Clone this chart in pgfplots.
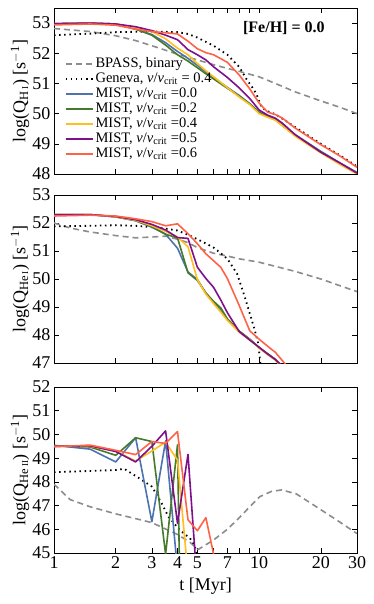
\documentclass[border=0pt]{standalone}
\usepackage{fontspec}
\setmainfont{Liberation Serif}
\usepackage{pgfplots}
\pgfplotsset{compat=1.18}

\definecolor{mistA}{HTML}{4C72B0}
\definecolor{mistB}{HTML}{467A2B}
\definecolor{mistC}{HTML}{FFBF1F}
\definecolor{mistD}{HTML}{7F108C}
\definecolor{mistE}{HTML}{FF6347}
\definecolor{bpass}{HTML}{8C8C8C}

\newcommand{\subion}[2]{\textsubscript{\fontsize{12.5}{12.5}\selectfont #1\,{\fontsize{9}{9}\selectfont #2}}}
\newcommand{\vcrit}{\textit{v}/\textit{v}\textsubscript{crit}}

\pgfplotsset{
  qpanel/.style={
    scale only axis, width=303pt,
    xmin=1, xmax=30,
    xtick={1,2,3,4,5,6,7,8,9,10,20,30},
    xminorticks=false, yminorticks=false,
    tick align=inside, xtick pos=both, ytick pos=both,
    major tick length=5pt,
    tick style={black, line width=0.6pt},
    axis line style={line width=0.8pt},
    /pgf/number format/assume math mode=true,
    tick label style={font=\fontsize{18}{18}\selectfont},
    label style={font=\fontsize{18}{20}\selectfont},
    ylabel style={at={(rel axis cs:-0.112,0.5)}, anchor=center},
    every axis plot/.append style={line width=1.6pt, line join=round},
  },
  bp/.style={bpass, dash pattern=on 6pt off 4pt},
  gv/.style={black, line width=1.8pt, dash pattern=on 1.5pt off 3.6pt},
}

\begin{document}
\begin{tikzpicture}
\path (-54pt,8pt) rectangle (320pt,-596pt);

% ---- H I ----
\begin{axis}[xmode=log, qpanel, at={(0pt,0pt)}, anchor=north west, height=166pt,
    ymin=48, ymax=53.5, ytick={48,49,50,51,52,53},
    xticklabels={},
    ylabel={log(Q\subion{H}{I}) [s\textsuperscript{$-$1}]},
    legend style={at={(rel axis cs:0.025,0.72)}, anchor=north west,
      draw=none, fill=none, font=\fontsize{14.5}{15}\selectfont,
      nodes={text height=10pt, text depth=3pt, inner ysep=1pt}},
    legend cell align=left,
    legend image code/.code={\draw[#1] (0pt,0pt) -- (27pt,0pt);},
]
\addplot[bp] coordinates {(1,52.82) (1.5,52.72) (2,52.58) (2.5,52.42) (3,52.25) (4,51.97) (5,51.78) (6,51.62) (7,51.5) (8,51.4) (10,51.22) (12,51.0) (15,50.72) (20,50.42) (25,50.2) (30,50.0)};
\addlegendentry{BPASS, binary}
\addplot[gv] coordinates {(1,52.6) (1.5,52.65) (2,52.7) (3,52.72) (4,52.7) (4.5,52.64) (5,52.52) (6,52.25) (7,51.95) (8,51.55) (8.7,51.13) (9.2,50.9) (9.7,50.65) (10.3,50.2) (11,50.08) (12,49.98) (13,49.83) (15,49.55) (20,49.0) (25,48.6) (30,48.25)};
\addlegendentry{Geneva, \vcrit{} = 0.4}
\addplot[mistA] coordinates {(1,52.98) (1.5,53.0) (2,52.97) (2.5,52.8) (3,52.62) (3.5,52.35) (4,52.06) (4.5,51.83) (5,51.6) (5.5,51.38) (6,51.2) (7,50.87) (8,50.6) (9,50.33) (10,50.05) (11,49.92) (12,49.82) (13,49.62) (15,49.3) (20,48.75) (25,48.35) (30,48.05)};
\addlegendentry{MIST, \vcrit{} =0.0}
\addplot[mistB] coordinates {(1,52.98) (1.5,53.0) (2,52.97) (2.5,52.8) (3,52.6) (3.5,52.27) (4,51.95) (4.5,51.74) (5,51.52) (5.5,51.32) (6,51.15) (7,50.84) (8,50.58) (9,50.32) (10,50.04) (11,49.91) (12,49.8) (13,49.6) (15,49.28) (20,48.73) (25,48.33) (30,48.03)};
\addlegendentry{MIST, \vcrit{} =0.2}
\addplot[mistC] coordinates {(1,52.98) (1.5,53.0) (2,52.97) (2.5,52.85) (3,52.72) (3.5,52.48) (4,52.17) (4.5,51.95) (5,51.66) (5.5,51.42) (6,51.22) (7,50.86) (8,50.55) (9,50.3) (10,50.0) (11,49.88) (12,49.78) (13,49.6) (15,49.25) (20,48.7) (25,48.3) (30,48.0)};
\addlegendentry{MIST, \vcrit{} =0.4}
\addplot[mistD] coordinates {(1,52.98) (1.5,53.0) (2,52.97) (2.5,52.88) (3,52.75) (3.5,52.6) (4,52.45) (4.5,52.12) (5,51.95) (5.5,51.78) (6,51.55) (7,51.2) (8,50.85) (9,50.5) (10,50.12) (11,49.95) (12,49.85) (13,49.68) (15,49.3) (20,48.72) (25,48.35) (30,48.03)};
\addlegendentry{MIST, \vcrit{} =0.5}
\addplot[mistE] coordinates {(1,52.94) (1.5,52.97) (2,52.93) (2.5,52.8) (3,52.72) (3.5,52.68) (4,52.64) (4.5,52.4) (5,52.15) (5.5,52.02) (6,51.95) (7,51.7) (8,51.28) (9,50.82) (10,50.35) (11,50.05) (12,49.97) (13,49.85) (15,49.52) (20,48.97) (25,48.58) (30,48.22)};
\addlegendentry{MIST, \vcrit{} =0.6}
\node[anchor=east, font=\bfseries\fontsize{16}{16}\selectfont] at (rel axis cs:0.905,0.88) {[Fe/H] = 0.0};
\end{axis}

% ---- He I ----
\begin{axis}[xmode=log, qpanel, at={(0pt,-187pt)}, anchor=north west, height=168pt,
    ymin=47, ymax=53, ytick={47,48,49,50,51,52,53},
    xticklabels={},
    ylabel={log(Q\subion{He}{I}) [s\textsuperscript{$-$1}]},
]
\addplot[bp] coordinates {(1,52.0) (1.2,51.82) (1.5,51.68) (2,51.55) (2.5,51.47) (3,51.5) (3.5,51.53) (4,51.42) (4.5,51.3) (5,51.12) (6,50.92) (7,50.82) (8,50.72) (10,50.6) (15,50.27) (20,50.0) (25,49.75) (30,49.55)};
\addplot[gv] coordinates {(1,51.88) (1.5,51.9) (2,51.92) (2.5,51.9) (3,51.85) (3.5,51.8) (4,51.73) (4.5,51.58) (5,51.42) (5.5,51.27) (6,51.12) (6.5,50.92) (7,50.72) (7.8,50.2) (8.5,49.37) (9,48.77) (9.5,48.2) (9.9,47.7) (10.1,47.1) (10.4,46.3)};
\addplot[mistA] coordinates {(1,52.3) (1.5,52.3) (2,52.22) (2.5,52.08) (3,51.85) (3.5,51.6) (4,51.1) (4.5,50.25) (5,49.98) (5.5,49.5) (6,49.15) (6.5,48.9) (7,48.55) (8,48.13) (9,47.85) (10,47.55) (11,47.33) (12,47.13) (13,46.85)};
\addplot[mistB] coordinates {(1,52.3) (1.5,52.3) (2,52.22) (2.5,52.09) (3,51.87) (3.5,51.6) (4,51.47) (4.5,50.22) (5,49.95) (5.5,49.5) (6,49.2) (6.5,48.97) (7,48.58) (8,48.14) (9,47.85) (10,47.55) (11,47.33) (12,47.13) (13,46.85)};
\addplot[mistC] coordinates {(1,52.3) (1.5,52.3) (2,52.22) (2.5,52.1) (3,51.9) (3.5,51.7) (4,51.5) (4.5,51.15) (5,49.98) (5.5,49.46) (6,49.12) (6.5,48.82) (7,48.52) (8,48.1) (9,47.83) (10,47.53) (11,47.3) (12,47.1) (13,46.83)};
\addplot[mistD] coordinates {(1,52.3) (1.5,52.3) (2,52.23) (2.5,52.12) (3,51.95) (3.5,51.75) (4,51.48) (4.5,51.45) (5,50.42) (5.5,50.02) (6,49.7) (6.5,49.25) (7,48.8) (8,48.12) (9,47.82) (10,47.56) (11,47.32) (12,47.12) (13,46.88)};
\addplot[mistE] coordinates {(1,52.25) (1.5,52.28) (2,52.25) (2.5,52.15) (3,52.05) (3.5,51.9) (4,51.97) (4.5,51.62) (5,51.26) (5.5,50.9) (6,50.65) (6.5,50.42) (7,50.02) (8,49.05) (9,48.15) (10,47.85) (11,47.6) (12,47.38) (13,47.08) (14,46.8)};
\end{axis}

% ---- He II ----
\begin{axis}[xmode=log, qpanel, at={(0pt,-379pt)}, anchor=north west, height=166pt,
    ymin=45, ymax=52, ytick={45,46,47,48,49,50,51,52},
    xticklabels={1,2,3,4,5,,7,,,10,20,30},
    xlabel={t [Myr]},
    xlabel style={yshift=-2pt},
    ylabel={log(Q\subion{He}{II}) [s\textsuperscript{$-$1}]},
]
\addplot[bp] coordinates {(1,47.9) (1.2,47.25) (1.5,46.95) (2,46.65) (2.5,46.45) (3,46.28) (4,45.78) (4.6,45.45) (5.05,45.15) (6,45.55) (7,46.0) (7.8,46.39) (9,46.95) (10.1,47.38) (11.5,47.6) (12.9,47.66) (15.2,47.49) (19,46.95) (23.9,46.39) (30,45.82)};
\addplot[gv] coordinates {(1,48.41) (1.5,48.46) (2,48.5) (2.2,48.55) (2.5,48.25) (3,47.8) (3.35,47.1) (3.6,46.55) (4.1,45.97) (4.6,45.62) (4.87,45.3) (5.1,44.0)};
\addplot[mistA] coordinates {(1,49.54) (1.5,49.38) (2,48.84) (2.5,49.86) (3,46.32) (3.5,49.73) (4,44.27)};
\addplot[mistB] coordinates {(1,49.52) (1.5,49.47) (2,49.12) (2.5,49.86) (3,49.7) (3.5,44.95) (4,49.56) (4.1,43.8)};
\addplot[mistC] coordinates {(1,49.52) (1.5,49.5) (2,49.3) (2.5,48.88) (3,49.3) (3.5,49.67) (4,48.92) (4.5,44.1)};
\addplot[mistD] coordinates {(1,49.5) (1.5,49.52) (2,49.28) (2.5,48.84) (3,49.5) (3.5,50.15) (4,46.25) (4.5,49.16) (5,43.6)};
\addplot[mistE] coordinates {(1,49.48) (1.5,49.55) (2,49.33) (2.5,49.15) (3,49.7) (3.5,49.62) (4,50.12) (4.5,46.4) (5,45.94) (5.5,46.49) (6,44.95) (6.5,43)};
\end{axis}
\end{tikzpicture}
\end{document}
